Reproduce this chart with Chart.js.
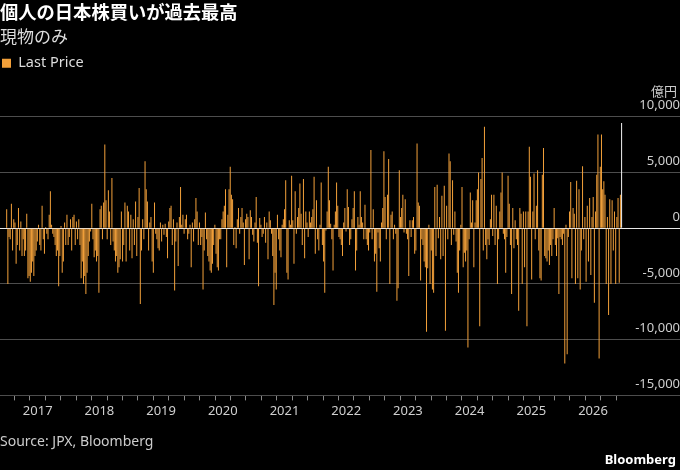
<!DOCTYPE html>
<html>
<head>
<meta charset="utf-8">
<script src="https://cdn.jsdelivr.net/npm/chart.js@4/dist/chart.umd.min.js"></script>
<style>
  html, body { margin: 0; padding: 0; background: #000; }
  #wrap { position: relative; width: 680px; height: 470px; background: #000; overflow: hidden; }
  #c { position: absolute; left: 0; top: 0; }
  .txt { position: absolute; white-space: nowrap; font-family: "Noto Sans", "Noto Sans CJK JP", sans-serif; }
  #title { left: 0; top: 0; font: bold 18.3px "Noto Sans CJK JP", sans-serif; line-height: 22px; color: #fff; }
  #sub { left: 0; top: 26px; font: 17px "Noto Sans CJK JP", sans-serif; line-height: 20px; color: #ddd; }
  #unit { right: 3px; top: 82px; font: 13px "Noto Sans CJK JP", sans-serif; line-height: 18px; color: #ccc; }
  #src { left: 0; top: 432px; font-size: 14px; line-height: 18px; color: #ccc; }
  #logo { right: 4px; top: 450px; font-size: 13px; font-weight: bold; line-height: 18px; color: #fff; }
</style>
</head>
<body>
<div id="wrap">
  <canvas id="c" width="680" height="470"></canvas>
  <div class="txt" id="title">個人の日本株買いが過去最高</div>
  <div class="txt" id="sub">現物のみ</div>
  <div class="txt" id="unit">億円</div>
  <div class="txt" id="src">Source: JPX, Bloomberg</div>
  <div class="txt" id="logo">Bloomberg</div>
</div>
<script>
// ---- Data: weekly net purchases by individuals (億円) ----
const SERIES_NAME = 'Last Price';
const FIRST_WEEK = '2016-07-01';          // week of the first bar
const Y_TICKS = [-15000, -10000, -5000, 0, 5000, 10000];
const YEAR_LABELS = [2017, 2018, 2019, 2020, 2021, 2022, 2023, 2024, 2025, 2026];

// 2016-07 .. 2017-05 (48 weeks)
const flow_2016_17 = [1700, -5000, -800, -1000, 2200, -2000, 800, 500, -3200, -1500, 1800, -2000, 600, -2500, -1000, -2500, -2000, 1300, -4500, -4300, -4800, -4000, -3000, -4300, -2500, -2000, -1200, 300, -1500, -2000, 2000, -1000, -2300, 100, -500, -1000, 1200, 3300, 300, -500, -800, -1500, -2500, -2000, -5200, -2500, 200, -4000];
// 2017-06 .. 2018-05 (52 weeks)
const flow_2017_18 = [-3000, 500, -1500, 1200, -1500, -800, 800, -2000, 1000, 1200, -1500, 600, -1000, 800, -1500, -4500, -3000, -5000, -4300, -5900, -4000, -2500, -1200, -300, 2200, -1000, -2600, -2000, -3000, -2500, -5800, 1700, 2000, -1000, 2300, 7500, 2500, -1000, 3400, 1500, -1500, 4500, -1200, -2000, -3000, -2500, -4000, -3500, -2800, 1500, -3000, -1500];
// 2018-06 .. 2019-05
const flow_2018_19 = [2300, -3000, 2000, 1500, -2000, 1200, -2700, 800, -1500, 2400, -2500, 1000, 3600, -6800, -2000, 800, -1000, 6000, 3500, 2400, -2000, 500, 1000, -3000, -4000, 2300, -500, -1000, -1800, -2000, 500, -1200, 300, -600, 400, -800, -2700, 600, 1800, 2000, -1500, 800, -5600, -1200, 500, -3400, 1000, 3700, 300, 1200, -500, 800];
// 2019-05 .. 2020-05
const flow_2019_20 = [1200, -1000, -500, 300, -3500, 500, -1200, 800, 2700, 1500, -1500, 500, -1500, -800, -5500, -2000, 1400, -1000, -2500, -3000, -3800, -4000, -3200, -1500, 300, -2300, -3500, -3800, -1000, -1000, 800, 1500, 2000, 3500, -3500, 1200, 3500, 5500, 3000, 2600, -1500, 100, -1800, 800, 1800, -500, 1000, 1800, 500, -3300, 800, 1300];
// 2020-05 .. 2021-05
const flow_2020_21 = [1000, -2800, 1600, 1000, -600, -1200, 500, 2800, -1300, -5200, 900, 300, -800, -500, 1000, -1300, 500, -2800, 1500, 700, -500, -2500, -6900, -4000, -5500, 1200, -1000, -2000, -2600, 300, 800, 1700, 4300, -4000, -4600, 700, 300, 4700, 700, -3200, 3300, -500, 1000, 1800, 4000, 1300, -1500, 4400, -2700, 1500, 500, -800];
// 2021-05 .. 2022-05
const flow_2021_22 = [1500, 500, 1000, 1700, 4600, -2300, 2500, -1000, -2000, 300, 4100, -1500, -3000, -5800, -200, 1500, 5500, 2500, 400, -1000, -3800, 300, 1500, 4100, 2000, -800, -1000, -1500, -2500, 500, 1800, -300, 3500, 1900, -1500, -1000, 800, 1800, 3300, -3800, -2000, 1000, 300, 3300, 1000, 500, -1000, 2100, -1000, -1500, -2000, -400];
// 2022-05 .. 2023-05
const flow_2022_23 = [7000, -1000, 1700, -3000, -2300, -5700, -400, -1800, -3000, 500, 1800, 6900, 2800, -1000, 3000, 6200, -5000, 1200, 1500, -1000, 300, -500, -6500, -5400, 5200, 1000, 1800, 3000, -400, 2600, -500, -1000, -4300, 700, -800, 700, 1000, -2300, -2000, 7600, 2300, 2000, -4700, -1000, -1500, -3000, -3500, -9300, -3600, 300, -5000, -2000];
// 2023-05 .. 2024-05
const flow_2023_24 = [-5500, -5800, 3700, -2500, 3900, -900, 1000, -2800, 2900, -2500, 3800, -9200, 2000, -1000, 6700, 6000, -1500, 4300, -600, 1500, -1200, -4000, -5800, -2000, 300, 3700, -3500, -2200, -3000, -2000, -10700, -1000, 3200, 500, 2500, -3500, 500, 2500, 3500, 5000, -8800, 4400, 6300, -2000, 9100, -1500, -2800, -1000, -1500, 800, 3000, -700];
// 2024-05 .. 2025-05
const flow_2024_25 = [3000, -1500, 2000, -5000, -1000, 1500, 3200, 5000, -500, -1000, -4000, -800, 4700, 2200, -1500, -5900, 1800, -1800, 700, -1000, -1500, -7400, 1800, 1300, -5000, 1500, -3500, 1500, -8800, 1500, 7300, 4600, -4600, 1500, 4900, -1000, 2000, 5200, -2000, -4500, -4700, 4800, 7200, -2500, -2700, -3000, -2000, -3300, -1500, -2500, -1000, 1800];
// 2025-05 .. 2026-06 (57 weeks, last = record)
const flow_2025_26 = [-1500, -2500, -900, -5900, -800, -1000, -1500, -500, -12150, 300, -11300, -800, 1500, 4150, -4500, 1800, 1300, -5000, 4250, -4500, 3500, -5500, -2000, 5550, -1000, 1000, -4800, 2000, -3000, 2700, -4200, 1000, 2800, -6700, 1500, 4800, 8400, -11700, 5500, 8400, 3500, 4200, 3000, -5000, 1000, -7800, 2600, -5000, 2500, -2000, 1500, -5000, 1000, 2700, -4900, 3000, 9440];

const values = [].concat(flow_2016_17, flow_2017_18, flow_2018_19, flow_2019_20, flow_2020_21,
                         flow_2021_22, flow_2022_23, flow_2023_24, flow_2024_25, flow_2025_26);

// ---- Build week positions (fractional years) ----
const DAY = 86400000;
const t0 = Date.parse(FIRST_WEEK + 'T00:00:00Z');
function yearFrac(ms) {
  const d = new Date(ms), y = d.getUTCFullYear();
  const a = Date.UTC(y, 0, 1), b = Date.UTC(y + 1, 0, 1);
  return y + (ms - a) / (b - a);
}
const points = values.map((v, i) => ({ x: yearFrac(t0 + i * 7 * DAY), y: v }));

const BAR_COLOR = '#f2a03a';
const LAST_COLOR = '#f2f2f2';
const FONT = "'Noto Sans', 'Noto Sans CJK JP', sans-serif";
Chart.defaults.font.family = FONT;

new Chart(document.getElementById('c'), {
  type: 'bar',
  data: {
    datasets: [{
      label: SERIES_NAME,
      data: points,
      backgroundColor: ctx => (ctx.dataIndex === values.length - 1 ? LAST_COLOR : BAR_COLOR),
      borderWidth: 0,
      barPercentage: 1,
      categoryPercentage: 0.85
    }]
  },
  options: {
    responsive: false,
    animation: false,
    layout: { padding: { top: 54, left: 0, right: 0, bottom: 48 } },
    plugins: {
      legend: {
        display: true, position: 'top', align: 'start',
        labels: { color: '#ddd', font: { size: 14.5, family: FONT }, boxWidth: 9, boxHeight: 9, padding: 2 }
      },
      tooltip: { enabled: false }
    },
    scales: {
      x: {
        type: 'linear', min: 2016.389, max: 2026.502, offset: false,
        grid: { drawOnChartArea: false, drawTicks: true, tickLength: 5, color: '#8a8a8a' },
        border: { display: false },
        ticks: {
          stepSize: 0.25, includeBounds: false, autoSkip: false, maxRotation: 0, minRotation: 0,
          color: '#cfcfcf', font: { size: 13 }, padding: 3,
          callback: v => {
            const r = Math.round(v);
            return (Math.abs(v - r) < 1e-6 && YEAR_LABELS.includes(r)) ? String(r) : '';
          }
        }
      },
      y: {
        position: 'right', min: -15000, max: 13243,
        afterBuildTicks: s => { s.ticks = Y_TICKS.map(v => ({ value: v })); },
        afterFit: s => { s.width = 56; },
        grid: {
          color: c => (c.tick && c.tick.value === 0 ? '#e8e8e8' : '#4d4d4d'),
          lineWidth: 1, tickLength: 56, drawTicks: true
        },
        border: { display: false },
        ticks: {
          color: '#cfcfcf', font: { size: 13 }, crossAlign: 'far', padding: -48, labelOffset: -11,
          callback: v => Number(v).toLocaleString('en-US')
        }
      }
    }
  }
});
</script>
</body>
</html>
